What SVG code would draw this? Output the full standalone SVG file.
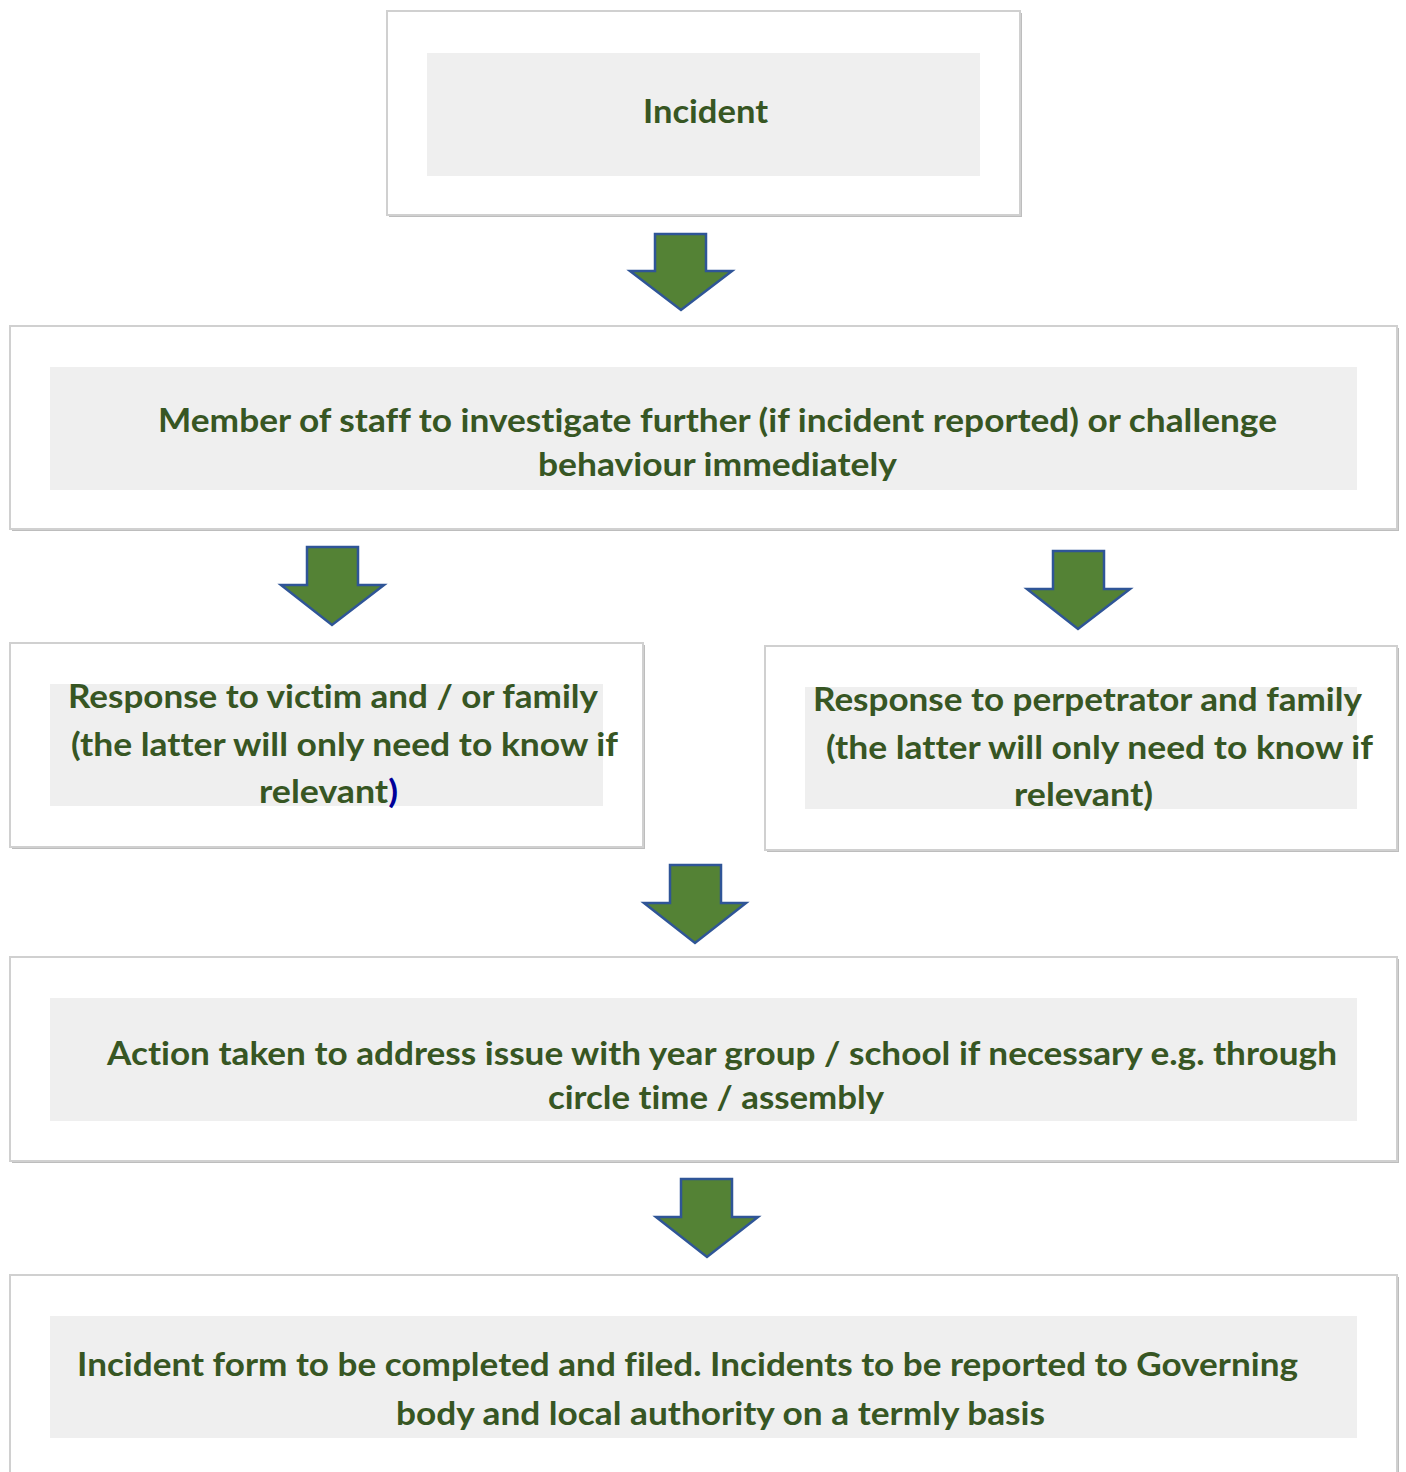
<svg xmlns="http://www.w3.org/2000/svg" width="1406" height="1472" viewBox="0 0 1406 1472">
<defs>
<style>
.shadow{fill:#bdbdbd;}
.outer{fill:#ffffff;stroke:#d0d0d0;stroke-width:2;}
.inner{fill:#efefef;}
.t{font-family:Lato,"Open Sans","Liberation Sans",sans-serif;font-weight:bold;font-size:32px;fill:#375623;font-variant-ligatures:none;font-feature-settings:"liga" 0,"dlig" 0;}
.arrow{fill:#548235;stroke:#2f5597;stroke-width:2.5;stroke-linejoin:miter;}
</style>
</defs>
<rect width="1406" height="1472" fill="#ffffff"/>
<g id="connectors">
<polygon class="arrow" points="655,234 706,234 706,271 732,271 681,310 630,271 655,271"/>
<polygon class="arrow" points="307,547 358,547 358,585 384,585 332,625 281,585 307,585"/>
<polygon class="arrow" points="1053,551 1104,551 1104,589 1130,589 1078,629 1027,589 1053,589"/>
<polygon class="arrow" points="670,865 721,865 721,903 746,903 695,943 644,903 670,903"/>
<polygon class="arrow" points="681,1179 732,1179 732,1217 758,1217 707,1257 656,1217 681,1217"/>
</g>
<g id="incident">
<rect class="shadow" x="389" y="13" width="633" height="204"/>
<rect class="outer" x="387" y="11" width="633" height="204"/>
<rect class="inner" x="427" y="53" width="553" height="123"/>
<text class="t" x="643" y="123" textLength="125" lengthAdjust="spacingAndGlyphs">Incident</text>
</g>
<g id="investigate">
<rect class="shadow" x="12" y="328" width="1387" height="203"/>
<rect class="outer" x="10" y="326" width="1387" height="203"/>
<rect class="inner" x="50" y="367" width="1307" height="123"/>
<text class="t" x="158" y="432" textLength="1119" lengthAdjust="spacingAndGlyphs">Member of staff to investigate further (if incident reported) or challenge</text>
<text class="t" x="538" y="476" textLength="359" lengthAdjust="spacingAndGlyphs">behaviour immediately</text>
</g>
<g id="victim">
<rect class="shadow" x="12" y="645" width="633" height="204"/>
<rect class="outer" x="10" y="643" width="633" height="204"/>
<rect class="inner" x="50" y="684" width="553" height="122"/>
<text class="t" x="68" y="708" textLength="530" lengthAdjust="spacingAndGlyphs">Response to victim and / or family</text>
<text class="t" x="71" y="756" textLength="547" lengthAdjust="spacingAndGlyphs">(the latter will only need to know if</text>
<text class="t" x="259" y="803" textLength="139" lengthAdjust="spacingAndGlyphs">relevant<tspan fill="#000099">)</tspan></text>
</g>
<g id="perpetrator">
<rect class="shadow" x="767" y="648" width="632" height="204"/>
<rect class="outer" x="765" y="646" width="632" height="204"/>
<rect class="inner" x="805" y="687" width="552" height="122"/>
<text class="t" x="813" y="711" textLength="549" lengthAdjust="spacingAndGlyphs">Response to perpetrator and family</text>
<text class="t" x="826" y="759" textLength="547" lengthAdjust="spacingAndGlyphs">(the latter will only need to know if</text>
<text class="t" x="1014" y="806" textLength="139" lengthAdjust="spacingAndGlyphs">relevant)</text>
</g>
<g id="action">
<rect class="shadow" x="12" y="959" width="1387" height="204"/>
<rect class="outer" x="10" y="957" width="1387" height="204"/>
<rect class="inner" x="50" y="998" width="1307" height="123"/>
<text class="t" x="107" y="1065" textLength="1230" lengthAdjust="spacingAndGlyphs">Action taken to address issue with year group / school if necessary e.g. through</text>
<text class="t" x="548" y="1109" textLength="336" lengthAdjust="spacingAndGlyphs">circle time / assembly</text>
</g>
<g id="form">
<rect class="shadow" x="12" y="1277" width="1387" height="210"/>
<rect class="outer" x="10" y="1275" width="1387" height="210"/>
<rect class="inner" x="50" y="1316" width="1307" height="122"/>
<text class="t" x="77" y="1376" textLength="1221" lengthAdjust="spacingAndGlyphs">Incident form to be completed and filed. Incidents to be reported to Governing</text>
<text class="t" x="396" y="1425" textLength="649" lengthAdjust="spacingAndGlyphs">body and local authority on a termly basis</text>
</g>
</svg>
